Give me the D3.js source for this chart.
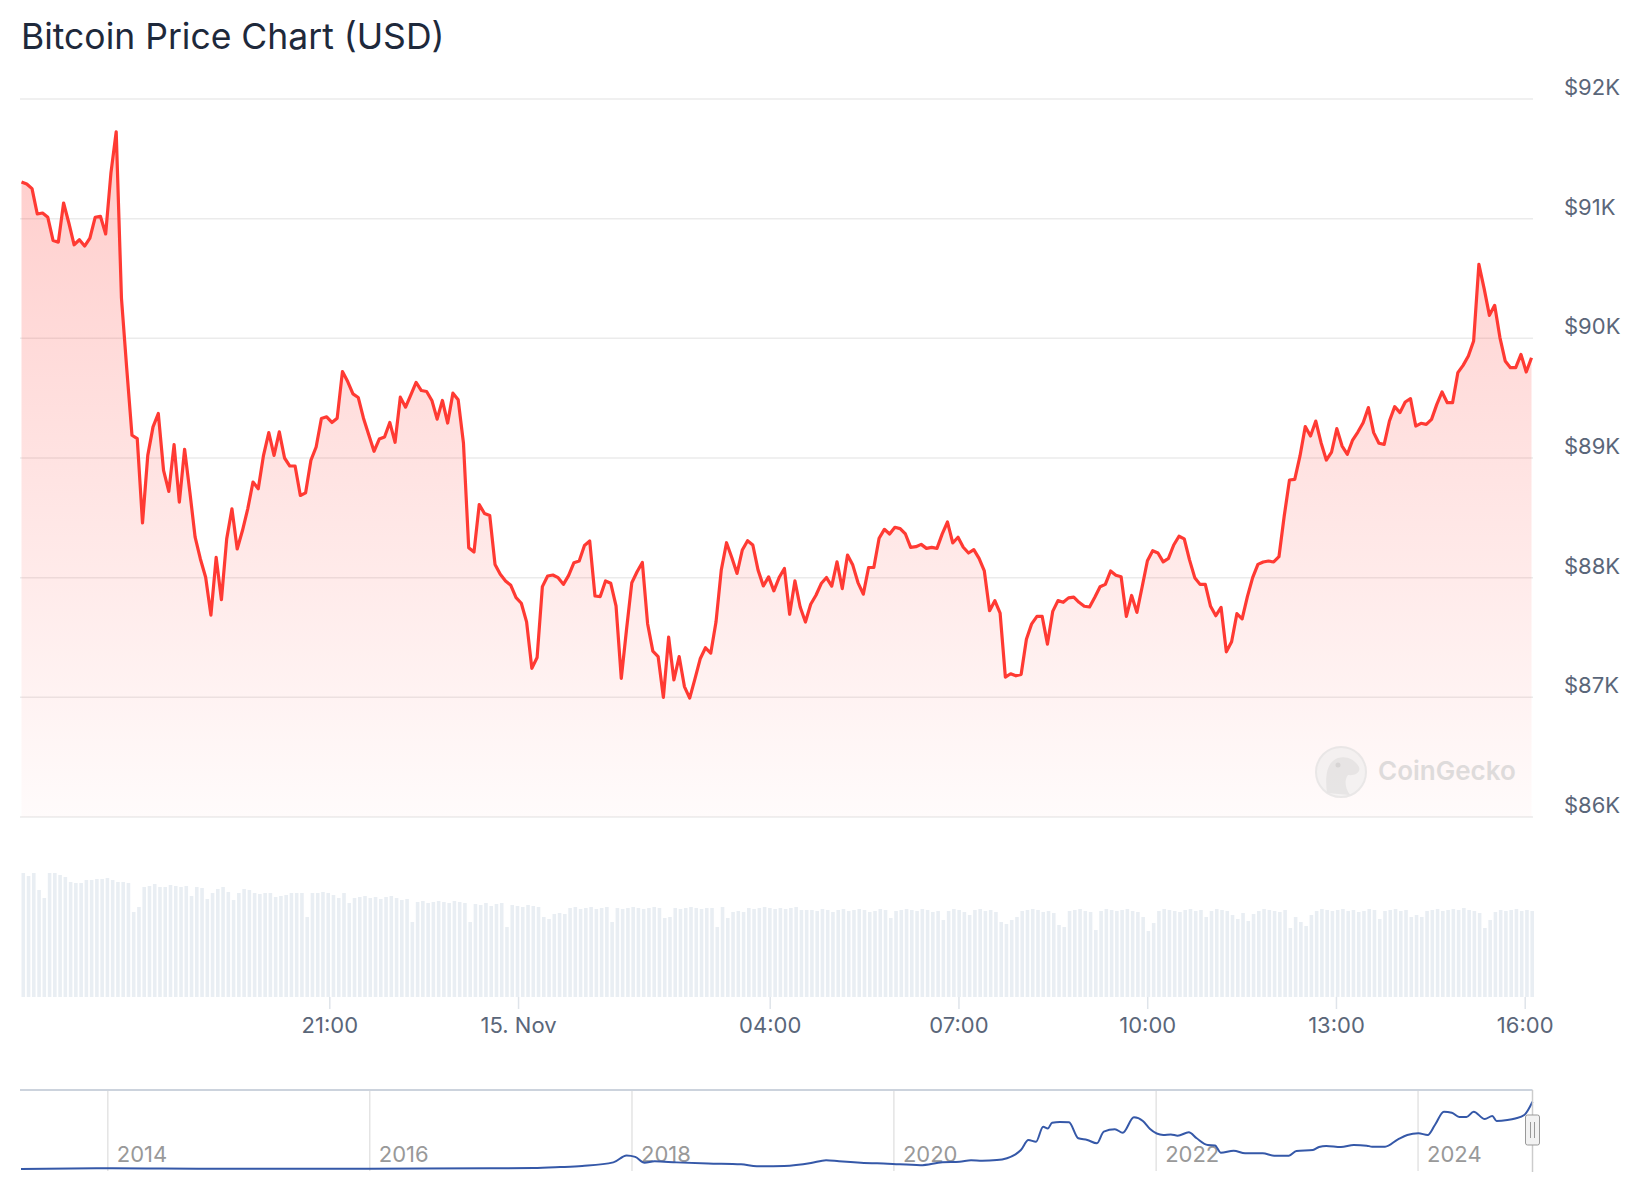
<!DOCTYPE html>
<html>

<head>
  <title>Bitcoin Price Chart (USD)</title>
</head>

<body>

  <svg id="svg" width="1644" height="1200"></svg>

  <script src="https://d3js.org/d3.v7.min.js"></script>
  <script>
    // 5-minute BTC prices, 14 Nov 16:06 -> 15 Nov 16:06
    const prices = [
      91307, 91290, 91251, 91039, 91047, 91011, 90818, 90804, 91131, 90964,
      90782, 90824, 90771, 90838, 91011, 91020, 90872, 91383, 91726, 90335,
      89749, 89190, 89162, 88458, 89022, 89260, 89372, 88897, 88721, 89112,
      88631, 89073, 88715, 88338, 88156, 88003, 87687, 88170, 87816, 88324,
      88575, 88240, 88394, 88575, 88799, 88743, 89022, 89212, 89022, 89218,
      89000, 88933, 88933, 88687, 88709, 88980, 89092, 89330, 89344,
      89297, 89333, 89722, 89639, 89536, 89506, 89333, 89194, 89056, 89158,
      89175, 89297, 89131, 89508, 89425, 89528, 89631, 89564, 89556, 89481,
      89325, 89481, 89292, 89542, 89486, 89125, 88250, 88214, 88611, 88536,
      88519, 88111, 88028, 87972, 87936, 87833, 87786, 87631, 87242, 87333,
      87925, 88014, 88022, 88000, 87944, 88019, 88125, 88139, 88269, 88306,
      87847, 87842, 87972, 87953, 87764, 87158, 87569, 87958,
      88049, 88127, 87615, 87386, 87341, 87000, 87503, 87145, 87341, 87090,
      86994, 87154, 87322, 87414, 87369, 87629, 88063, 88292, 88169, 88035,
      88231, 88309, 88273, 88063, 87931, 88007, 87890, 88001, 88077, 87694,
      87973, 87755, 87629, 87778, 87853, 87951, 88001, 87929, 88133, 87909,
      88189, 88105, 87957, 87862, 88085, 88085, 88329, 88404, 88365, 88421,
      88410, 88365, 88253, 88259, 88278, 88245, 88253, 88245,
      88366, 88465, 88290, 88338, 88254, 88206, 88234, 88161, 88056, 87724,
      87808, 87704, 87169, 87197, 87180, 87192, 87485, 87614, 87676, 87676,
      87445, 87718, 87808, 87794, 87831, 87837, 87794, 87761, 87755, 87837,
      87924, 87944, 88056, 88020, 88008, 87676, 87851, 87710, 87924, 88141,
      88225, 88206, 88132, 88161, 88273, 88346, 88324, 88149, 88000, 87944,
      87944, 87761, 87682, 87752, 87380, 87465, 87699, 87656,
      87841, 88000, 88111, 88131, 88139, 88131, 88175, 88515, 88816, 88822,
      89017, 89262, 89184, 89309, 89128, 88983, 89050, 89245, 89100, 89031,
      89150, 89217, 89295, 89421, 89212, 89123, 89114, 89309, 89429, 89379,
      89468, 89496, 89267, 89290, 89281, 89323, 89448, 89552, 89462, 89462,
      89713, 89774, 89852, 89978, 90618, 90415, 90192, 90276, 90006, 89811,
      89755, 89755, 89866, 89719, 89838
    ]

    // trading volume per 5 min bucket (relative units)
    const volumes = [
      124, 121, 124, 107, 99, 124, 124, 122, 120, 115,
      114, 114, 117, 117, 118, 118, 119, 117, 115, 115,
      114, 85, 90, 110, 111, 113, 110, 110, 112, 111,
      110, 111, 101, 110, 109, 98, 104, 108, 110, 105,
      97, 104, 108, 107, 104, 103, 104, 104, 100, 101,
      102, 104, 104, 104, 80, 104, 104, 105, 104, 102,
      99, 104, 94, 99,
      100, 101, 99, 100, 98, 100, 101, 99, 97, 98,
      75, 95, 96, 94, 95, 96, 95, 94, 96, 95,
      94, 75, 93, 92, 94, 91, 93, 94, 70, 92,
      91, 90, 92, 91, 90, 80, 78, 83, 84, 83,
      89, 90, 88, 89, 90, 88, 89, 90, 75, 89,
      88, 89, 90, 89, 88, 89, 90, 89, 79, 80,
      89, 88, 89, 90, 89, 88, 89, 89, 70, 90,
      79, 85, 86, 85, 89, 88, 89, 90, 89, 88,
      89, 88, 89, 90, 87, 87,
      87, 86, 88, 87, 85, 87, 88, 86, 87, 88,
      87, 85, 86, 88, 87, 79, 86, 87, 88, 87,
      86, 88, 87, 85, 86, 77, 86, 88, 87, 85,
      82, 87, 88, 86, 87, 85, 75, 73, 77, 80,
      86, 87, 88, 87, 85, 86, 84, 72, 70, 86,
      87, 88, 86, 85, 67, 86, 88, 87, 86, 87,
      88, 86, 85, 80, 66, 74, 86, 88, 87, 86,
      85, 87, 88, 86, 87, 80, 86, 88, 87, 86,
      82, 78, 84, 76, 83, 86, 88, 87, 86, 85,
      87, 69, 80, 75, 71, 82, 86, 88, 87, 86,
      87, 88, 86, 87, 85, 86, 88, 87, 78, 86,
      87, 88, 86, 87, 80, 82, 80, 86, 87, 88,
      86, 87, 88, 87, 89, 87, 86, 84, 69, 77,
      85, 87, 86, 87, 88, 86, 87, 86
    ]

    const priceTicks = [86000, 87000, 88000, 89000, 90000, 91000, 92000]
    const timeTicks = ['2024-11-14T21:00', '2024-11-15T00:00', '2024-11-15T04:00',
      '2024-11-15T07:00', '2024-11-15T10:00', '2024-11-15T13:00', '2024-11-15T16:00']
    const timeLabels = ['21:00', '15. Nov', '04:00', '07:00', '10:00', '13:00', '16:00']

    // long-term history shown in the navigator
    const navDates = [
      '2013-05-04', '2013-11-30', '2014-01-15', '2014-06-01', '2015-01-15', '2016-01-01',
      '2016-12-01', '2017-04-01', '2017-06-15', '2017-08-15', '2017-11-10', '2017-12-17',
      '2018-01-10', '2018-02-05', '2018-03-05', '2018-05-05', '2018-08-01', '2018-11-01',
      '2018-12-15', '2019-03-01', '2019-05-15', '2019-06-26', '2019-08-01', '2019-10-01',
      '2019-12-15', '2020-03-15', '2020-05-15',
      '2020-07-02', '2020-08-03', '2020-09-03', '2020-10-14', '2020-12-05', '2020-12-20',
      '2021-01-10', '2021-01-31', '2021-02-20', '2021-03-05', '2021-03-17', '2021-04-08',
      '2021-05-03', '2021-05-29', '2021-06-23', '2021-07-20', '2021-08-08', '2021-09-08',
      '2021-09-30', '2021-10-31', '2021-11-25', '2021-12-15', '2022-01-21', '2022-02-11',
      '2022-03-02', '2022-04-02', '2022-04-24', '2022-05-25', '2022-06-14', '2022-06-30',
      '2022-08-05', '2022-09-06', '2022-10-25', '2022-11-26', '2023-01-06', '2023-01-27',
      '2023-03-14', '2023-03-31', '2023-04-20', '2023-05-31', '2023-07-06', '2023-08-11',
      '2023-08-26', '2023-10-01', '2023-11-06', '2023-12-02', '2024-01-02', '2024-01-28',
      '2024-02-17', '2024-03-13', '2024-04-04', '2024-04-25', '2024-05-15', '2024-06-04',
      '2024-07-05', '2024-07-26', '2024-08-07', '2024-09-06', '2024-09-28', '2024-10-23',
      '2024-11-15'
    ]
    const navValues = [
      120, 1000, 850, 650, 250, 430,
      900, 1200, 2600, 4200, 9000, 18500,
      16500, 8500, 10500, 9000, 7500, 6400,
      3600, 4000, 8000, 12000, 10500, 8500,
      7200, 5200, 9200,
      9900, 11800, 11300, 12200, 20000, 25800,
      39400, 37000, 57400, 55000, 62900, 64000,
      63500, 41700, 39400, 34900, 50700, 53900,
      49300, 70200, 65200, 54300, 46200, 47000,
      45300, 49800, 41700, 32600, 32000, 22200,
      24900, 21300, 21300, 18100, 18100, 24400,
      25800, 29900, 31300, 29900, 32600, 31700,
      30300, 30300, 40300, 46200, 48500, 46200,
      59800, 77800, 76400, 70600, 70600, 77800,
      67900, 72000, 65200, 66500, 68600, 73300,
      91400
    ]
    const navYears = ['2014', '2016', '2018', '2020', '2022', '2024']

    const parseT = d3.timeParse('%Y-%m-%dT%H:%M')
    const parseD = d3.timeParse('%Y-%m-%d')

    const svg = d3.select('#svg')
    const left = 20, right = 1533

    svg.append('text')
      .attr('x', 21)
      .attr('y', 49)
      .attr('font-family', 'Inter, sans-serif')
      .attr('font-size', 35.5)
      .attr('fill', '#1e293b')
      .text('Bitcoin Price Chart (USD)')

    // price panel
    const t0 = parseT('2024-11-14T16:06')
    const t1 = parseT('2024-11-15T16:06')
    const step = (t1 - t0) / (prices.length - 1)
    const data = prices.map((p, i) => ({ t: new Date(+t0 + i * step), p: p, v: volumes[i] }))

    const xscale = d3.scaleTime()
      .domain([t0, t1])
      .range([21.5, 1531.5])

    const yscale = d3.scaleLinear()
      .domain([86000, 92000])
      .range([817, 99])

    svg.append('g')
      .selectAll('line')
      .data(priceTicks)
      .join('line')
      .attr('x1', left)
      .attr('x2', right)
      .attr('y1', d => yscale(d))
      .attr('y2', d => yscale(d))
      .attr('stroke', '#ebebeb')
      .attr('stroke-width', 1.5)

    svg.append('g')
      .selectAll('text')
      .data(priceTicks)
      .join('text')
      .attr('x', 1564)
      .attr('y', d => yscale(d) - 4)
      .attr('font-family', 'Inter, sans-serif')
      .attr('font-size', 22)
      .attr('fill', '#5a6679')
      .text(d => '$' + d / 1000 + 'K')

    const defs = svg.append('defs')
    const grad = defs.append('linearGradient')
      .attr('id', 'redfade')
      .attr('gradientUnits', 'userSpaceOnUse')
      .attr('x1', 0).attr('x2', 0)
      .attr('y1', yscale(92000)).attr('y2', yscale(86000))
    grad.append('stop').attr('offset', 0).attr('stop-color', '#ff3a33').attr('stop-opacity', 0.27)
    grad.append('stop').attr('offset', 1).attr('stop-color', '#ff3a33').attr('stop-opacity', 0.02)

    const areagen = d3.area()
      .x(d => xscale(d.t))
      .y0(yscale(86000))
      .y1(d => yscale(d.p))

    svg.append('path')
      .attr('d', areagen(data))
      .attr('fill', 'url(#redfade)')

    // CoinGecko watermark
    const wm = svg.append('g').attr('opacity', 0.6)
    wm.append('circle')
      .attr('cx', 1341).attr('cy', 772).attr('r', 25)
      .attr('fill', '#ededed')
      .attr('stroke', '#dcdcdc')
      .attr('stroke-width', 2)
    wm.append('path')
      .attr('d', 'M1327,793 C1325,778 1326,762 1338,758 C1348,755 1356,761 1359,767 C1361,772 1355,776 1348,775 C1344,780 1345,788 1350,795 Z')
      .attr('fill', '#d8d8d8')
    wm.append('circle')
      .attr('cx', 1338).attr('cy', 765).attr('r', 2.5)
      .attr('fill', '#bdbdbd')
    wm.append('text')
      .attr('x', 1378)
      .attr('y', 780)
      .attr('font-family', 'Inter, sans-serif')
      .attr('font-size', 26)
      .attr('font-weight', 600)
      .attr('fill', '#c9c9c9')
      .text('CoinGecko')

    const linegen = d3.line()
      .x(d => xscale(d.t))
      .y(d => yscale(d.p))
      .curve(d3.curveLinear)

    svg.append('path')
      .attr('d', linegen(data))
      .attr('stroke-width', 3.2)
      .attr('stroke', '#ff3a33')
      .attr('stroke-linejoin', 'round')
      .attr('fill', 'none')

    // volume bars
    const xband = d3.scaleBand()
      .domain(d3.range(volumes.length))
      .range([21.5, 1534])
      .paddingInner(0.32)

    const vscale = d3.scaleLinear()
      .domain([0, 124])
      .range([997, 873])

    svg.append('g')
      .selectAll('rect')
      .data(data)
      .join('rect')
      .attr('x', (d, i) => xband(i))
      .attr('width', xband.bandwidth())
      .attr('y', d => vscale(d.v))
      .attr('height', d => vscale(0) - vscale(d.v))
      .attr('fill', '#e9eef3')

    // time axis
    const tickDates = timeTicks.map(parseT)
    svg.append('g')
      .selectAll('line')
      .data(tickDates)
      .join('line')
      .attr('x1', d => xscale(d))
      .attr('x2', d => xscale(d))
      .attr('y1', 997)
      .attr('y2', 1009)
      .attr('stroke', '#dfe4ea')
      .attr('stroke-width', 1.5)

    svg.append('g')
      .selectAll('text')
      .data(tickDates)
      .join('text')
      .attr('x', d => xscale(d))
      .attr('y', 1033)
      .attr('text-anchor', 'middle')
      .attr('font-family', 'Inter, sans-serif')
      .attr('font-size', 22)
      .attr('fill', '#5a6679')
      .text((d, i) => timeLabels[i])

    // navigator
    const navData = navDates.map((d, i) => ({ t: parseD(d), p: navValues[i] }))
    const navX = d3.scaleTime()
      .domain([parseD('2013-05-04'), parseD('2024-11-15')])
      .range([21, 1532.5])
    const navY = d3.scaleLinear()
      .domain([0, 91000])
      .range([1169, 1102])

    const yearDates = navYears.map(y => parseD(y + '-01-01'))
    svg.append('g')
      .selectAll('line')
      .data(yearDates)
      .join('line')
      .attr('x1', d => navX(d))
      .attr('x2', d => navX(d))
      .attr('y1', 1090)
      .attr('y2', 1171)
      .attr('stroke', '#e4e4e4')
      .attr('stroke-width', 1.5)

    svg.append('g')
      .selectAll('text')
      .data(yearDates)
      .join('text')
      .attr('x', d => navX(d) + 9)
      .attr('y', 1162)
      .attr('font-family', 'Inter, sans-serif')
      .attr('font-size', 22)
      .attr('fill', '#999999')
      .text((d, i) => navYears[i])

    svg.append('path')
      .attr('d', d3.line().x(d => navX(d.t)).y(d => navY(d.p)).curve(d3.curveMonotoneX)(navData))
      .attr('stroke', '#3558a8')
      .attr('stroke-width', 2)
      .attr('fill', 'none')

    svg.append('line')
      .attr('x1', left).attr('x2', navX(parseD('2024-11-15')))
      .attr('y1', 1090).attr('y2', 1090)
      .attr('stroke', '#ccd3dd')
      .attr('stroke-width', 2)

    const endX = navX(parseD('2024-11-15'))
    svg.append('line')
      .attr('x1', endX).attr('x2', endX)
      .attr('y1', 1090).attr('y2', 1172)
      .attr('stroke', '#cccccc')
      .attr('stroke-width', 1.5)

    const handle = svg.append('g')
    handle.append('rect')
      .attr('x', endX - 7).attr('y', 1115)
      .attr('width', 14).attr('height', 30)
      .attr('rx', 2)
      .attr('fill', '#f2f2f2')
      .attr('stroke', '#999999')
      .attr('stroke-width', 1)
    handle.selectAll('line')
      .data([-2, 2])
      .join('line')
      .attr('x1', d => endX + d).attr('x2', d => endX + d)
      .attr('y1', 1122).attr('y2', 1138)
      .attr('stroke', '#999999')
      .attr('stroke-width', 1)
  </script>
</body>

<style>
  body,
  html {
    margin: 0;
    background: #ffffff;
  }
</style>

</html>
